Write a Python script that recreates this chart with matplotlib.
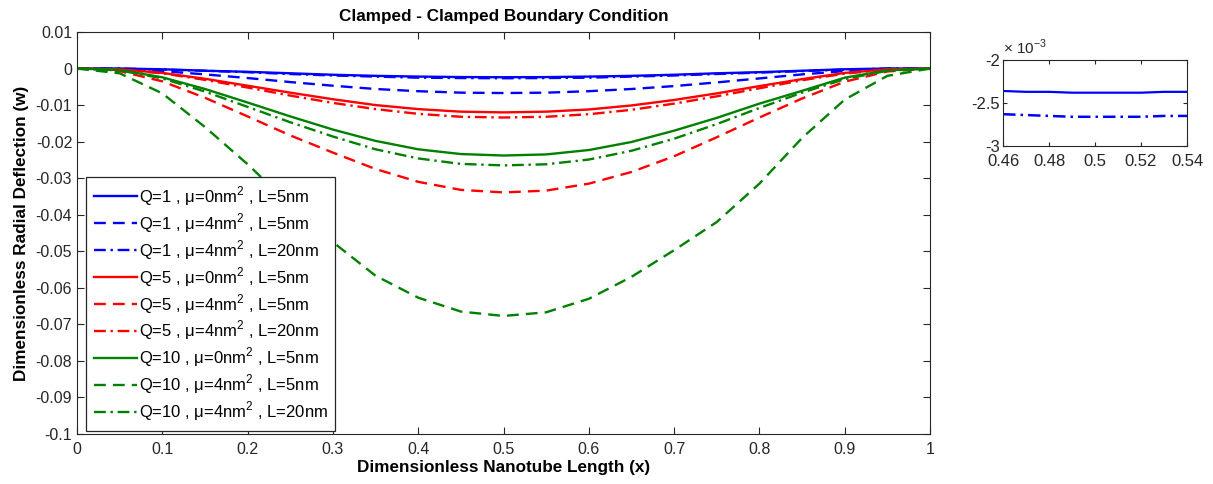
import matplotlib
matplotlib.use("Agg")
import matplotlib.pyplot as plt

plt.rcParams['font.family'] = ['Liberation Sans', 'DejaVu Sans']
plt.rcParams['axes.unicode_minus'] = False
plt.rcParams['mathtext.fontset'] = 'custom'
plt.rcParams['mathtext.rm'] = 'Liberation Sans'

# values
x = [0.0, 0.05, 0.1, 0.15, 0.2, 0.25, 0.3, 0.35, 0.4, 0.45, 0.5,
     0.55, 0.6, 0.65, 0.7, 0.75, 0.8, 0.85, 0.9, 0.95, 1.0]

q1_mu0_l5 = [0, 0, -0.0002, -0.0006, -0.0009, -0.0013, -0.0017, -0.0020, -0.0022, -0.00233, -0.00238,
             -0.00234, -0.0022, -0.0020, -0.0017, -0.0013, -0.0010, -0.0006, -0.0002, 0, 0]
q1_mu4_l5 = [0, -0.0001, -0.0007, -0.0016, -0.0026, -0.0037, -0.0047, -0.0056, -0.0062, -0.0066, -0.0067,
             -0.0066, -0.0062, -0.0056, -0.0048, -0.0038, -0.0027, -0.0016, -0.0007, -0.0001, 0]
q1_mu4_l20 = [0, 0, -0.0003, -0.0006, -0.0010, -0.0015, -0.0019, -0.0022, -0.0025, -0.0026, -0.00266,
              -0.0026, -0.0025, -0.0022, -0.0019, -0.0015, -0.0011, -0.0007, -0.0003, 0, 0]
q5_mu0_l5 = [0, -0.0002, -0.0012, -0.0028, -0.0047, -0.0066, -0.0084, -0.0100, -0.0111, -0.0118, -0.0120,
             -0.0118, -0.0112, -0.0101, -0.0086, -0.0068, -0.0048, -0.0029, -0.0012, -0.0002, 0]
q5_mu4_l5 = [0, -0.0007, -0.0035, -0.0080, -0.0131, -0.0183, -0.0230, -0.0275, -0.0310, -0.0332, -0.0339,
             -0.0334, -0.0315, -0.0283, -0.0240, -0.0188, -0.0134, -0.0082, -0.0036, -0.0008, 0]
q5_mu4_l20 = [0, -0.0003, -0.0013, -0.0031, -0.0052, -0.0074, -0.0094, -0.0111, -0.0124, -0.0132, -0.0134,
              -0.0132, -0.0125, -0.0113, -0.0096, -0.0076, -0.0054, -0.0032, -0.0014, -0.0003, 0]
q10_mu0_l5 = [0, -0.0004, -0.0024, -0.0056, -0.0093, -0.0131, -0.0167, -0.0198, -0.0221, -0.0234, -0.0238,
              -0.0235, -0.0223, -0.0201, -0.0170, -0.0135, -0.0096, -0.0061, -0.0025, -0.0005, 0]
q10_mu4_l5 = [0, -0.0013, -0.0068, -0.0160, -0.0262, -0.0373, -0.0475, -0.0567, -0.0627, -0.0665, -0.0677,
              -0.0667, -0.0630, -0.0570, -0.0497, -0.0420, -0.0315, -0.0190, -0.0085, -0.0020, 0]
q10_mu4_l20 = [0, -0.0005, -0.0027, -0.0063, -0.0105, -0.0147, -0.0186, -0.0221, -0.0246, -0.0261, -0.0265,
               -0.0262, -0.0249, -0.0225, -0.0192, -0.0152, -0.0108, -0.0066, -0.0029, -0.0006, 0]

labels = ['Q=1 , \u03bc=0nm$^2$ , L=5nm', 'Q=1 , \u03bc=4nm$^2$ , L=5nm', 'Q=1 , \u03bc=4nm$^2$ , L=20nm',
          'Q=5 , \u03bc=0nm$^2$ , L=5nm', 'Q=5 , \u03bc=4nm$^2$ , L=5nm', 'Q=5 , \u03bc=4nm$^2$ , L=20nm',
          'Q=10 , \u03bc=0nm$^2$ , L=5nm', 'Q=10 , \u03bc=4nm$^2$ , L=5nm', 'Q=10 , \u03bc=4nm$^2$ , L=20nm']

# zoomed window (inset)
x_zoom = [0.46, 0.47, 0.48, 0.49, 0.50, 0.51, 0.52, 0.53, 0.54]
zoom_solid = [-2.36e-3, -2.37e-3, -2.37e-3, -2.38e-3, -2.38e-3, -2.38e-3, -2.38e-3, -2.37e-3, -2.37e-3]
zoom_dashdot = [-2.63e-3, -2.64e-3, -2.65e-3, -2.66e-3, -2.66e-3, -2.66e-3, -2.66e-3, -2.65e-3, -2.65e-3]

xticks = [0, 0.1, 0.2, 0.3, 0.4, 0.5, 0.6, 0.7, 0.8, 0.9, 1]
xtick_labels = ['0', '0.1', '0.2', '0.3', '0.4', '0.5', '0.6', '0.7', '0.8', '0.9', '1']
yticks = [0.01, 0, -0.01, -0.02, -0.03, -0.04, -0.05, -0.06, -0.07, -0.08, -0.09, -0.1]
ytick_labels = ['0.01', '0', '-0.01', '-0.02', '-0.03', '-0.04', '-0.05', '-0.06',
                '-0.07', '-0.08', '-0.09', '-0.1']

blue, red, green = '#0000ff', '#ff0000', '#008000'
dash = (0, (5, 3))
dashdot = (0, (5, 2, 1, 2))
axis_col = '#262626'

fig = plt.figure(figsize=(12.13, 4.84), dpi=100)
ax = fig.add_axes([0.0635, 0.1033, 0.7032, 0.8306])

series = [q1_mu0_l5, q1_mu4_l5, q1_mu4_l20, q5_mu0_l5, q5_mu4_l5, q5_mu4_l20,
          q10_mu0_l5, q10_mu4_l5, q10_mu4_l20]
colors = [blue] * 3 + [red] * 3 + [green] * 3
styles = ['-', dash, dashdot] * 3
for ys, c, ls, lab in zip(series, colors, styles, labels):
    ax.plot(x, ys, color=c, linestyle=ls, linewidth=1.7, label=lab)

ax.set_xlim(0, 1)
ax.set_ylim(-0.1, 0.01)
ax.set_xticks(xticks)
ax.set_xticklabels(xtick_labels)
ax.set_yticks(yticks)
ax.set_yticklabels(ytick_labels)
ax.tick_params(direction='in', top=True, right=True, labelsize=11.5, length=5, colors=axis_col)
ax.tick_params(axis='x', pad=6)
for s in ax.spines.values():
    s.set_color(axis_col)
ax.set_title('Clamped - Clamped Boundary Condition', fontsize=12.3, fontweight='bold', pad=8)
ax.set_xlabel('Dimensionless Nanotube Length (x)', fontsize=12.3, fontweight='bold', labelpad=2)
ax.set_ylabel('Dimensionless Radial Deflection (w)', fontsize=12.3, fontweight='bold', labelpad=5)

leg = ax.legend(loc='lower left', bbox_to_anchor=(0.011, 0.008), fontsize=12, frameon=True,
                fancybox=False, edgecolor=axis_col, framealpha=1, handlelength=2.6,
                handletextpad=0.1, labelspacing=0.2, borderpad=0.45, borderaxespad=0)
leg.get_frame().set_linewidth(0.9)

# inset
axi = fig.add_axes([0.8269, 0.6983, 0.1517, 0.1777])
axi.plot(x_zoom, zoom_solid, color=blue, linestyle='-', linewidth=1.6)
axi.plot(x_zoom, zoom_dashdot, color=blue, linestyle=dashdot, linewidth=1.8)
axi.set_xlim(0.46, 0.54)
axi.set_ylim(-3e-3, -2e-3)
axi.set_xticks([0.46, 0.48, 0.5, 0.52, 0.54])
axi.set_xticklabels(['0.46', '0.48', '0.5', '0.52', '0.54'])
axi.set_yticks([-3e-3, -2.5e-3, -2e-3])
axi.set_yticklabels(['-3', '-2.5', '-2'])
axi.tick_params(direction='in', top=True, right=True, labelsize=12, length=3, colors=axis_col, pad=2)
axi.tick_params(axis='x', pad=6)
for s in axi.spines.values():
    s.set_color(axis_col)
axi.text(0.0, 1.04, '\u00d7 10$^{-3}$', transform=axi.transAxes, fontsize=11, ha='left', va='bottom',
         color=axis_col)

fig.savefig('out.png', dpi=100)
